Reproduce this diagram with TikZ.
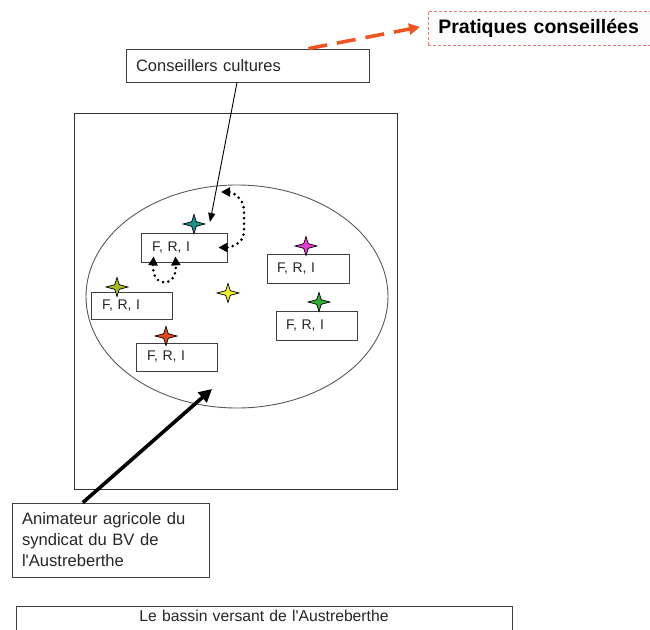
\documentclass[tikz,border=0pt]{standalone}
\usepackage{fontspec}
\setmainfont{Liberation Sans}
\usetikzlibrary{shapes.geometric,arrows.meta,calc}
\definecolor{redarr}{HTML}{EE5522}
\definecolor{pinkdash}{HTML}{E07A7A}
\definecolor{stteal}{HTML}{1F8F88}
\definecolor{stmag}{HTML}{E040D0}
\definecolor{stolive}{HTML}{A8B828}
\definecolor{styel}{HTML}{F2F030}
\definecolor{stred}{HTML}{E84818}
\definecolor{stgreen}{HTML}{30B030}
\newcommand\fourstar[2]{\filldraw[line width=0.7pt, draw=black, fill=#2] (#1) +(0,-9.5) -- +(2.3,-2.3) -- +(11,0) -- +(2.3,2.3) -- +(0,9.5) -- +(-2.3,2.3) -- +(-11,0) -- +(-2.3,-2.3) -- cycle;}
\tikzset{
  box/.style={draw=black!75, line width=0.8pt, inner xsep=10pt, inner ysep=0pt, text=black!85, align=left},
  frbox/.style={box, inner xsep=11pt, font=\fontsize{14}{16}\selectfont},
  dotarrow/.style={line width=2.9pt, dash pattern=on 0pt off 5.5pt, line cap=round, {Triangle[length=9pt,width=9pt]}-{Triangle[length=9pt,width=9pt]}},
}
\begin{document}
\begin{tikzpicture}[x=1pt,y=-1pt]
\useasboundingbox (0,0) rectangle (650,629);
% basin frame and ellipse
\node[draw=black!80, line width=0.9pt, minimum width=323, minimum height=376, inner sep=0] (bv) at (235.5,301) {};
\node[draw=black!65, line width=0.9pt, ellipse, minimum width=302, minimum height=223, inner sep=0] (el) at (237,296.5) {};
% top boxes
\node[box, minimum width=243, minimum height=33, text width=223, font=\fontsize{16.5}{20}\selectfont] (cc) at (247.5,65.5) {Conseillers cultures};
\node[draw=pinkdash, line width=0.7pt, dash pattern=on 3pt off 2pt, fill=black!1, anchor=west, minimum width=240, minimum height=34, text width=220, inner xsep=10pt, inner ysep=0pt, align=left, font=\bfseries\fontsize{19.5}{22}\selectfont] (pc) at (428,28) {Pratiques conseillées};
% F,R,I boxes
\node[frbox, minimum width=86, minimum height=29, text width=64] (b1) at (184,247.5) {F, R, I};
\node[frbox, minimum width=81, minimum height=27, text width=59] (b2) at (131.5,305.5) {F, R, I};
\node[frbox, minimum width=81, minimum height=28, text width=59] (b3) at (176.5,357) {F, R, I};
\node[frbox, minimum width=82, minimum height=29, text width=62, inner xsep=10pt] (b4) at (308,268.5) {F, R, I};
\node[frbox, minimum width=81, minimum height=29, text width=61, inner xsep=10pt] (b5) at (316.5,325.5) {F, R, I};
% stars
\fourstar{194,224}{stteal}
\fourstar{306,246}{stmag}
\fourstar{117,287}{stolive}
\fourstar{228,293}{styel}
\fourstar{166,336}{stred}
\fourstar{319,302}{stgreen}
% lower boxes
\node[box, minimum width=197, minimum height=74, text width=177, font=\fontsize{16.6}{21}\selectfont] (an) at (110.5,540) {Animateur agricole du\\syndicat du BV de\\l\textquotesingle Austreberthe};
\node[box, anchor=north, minimum width=496, inner ysep=4pt, text height=11.3pt, text depth=14pt, text width=476, align=center, font=\fontsize{15.7}{18}\selectfont] (lb) at (264,606) {Le bassin versant de l\textquotesingle Austreberthe};
% connectors
\coordinate (t1) at (210,222);
\coordinate (t2) at (212,389);
\coordinate (d1) at (221,192);
\draw[line width=0.9pt, -{Triangle[length=9pt,width=7pt]}] ($(cc.south west)!0.457!(cc.south east)$) -- (t1);
\draw[line width=3.6pt, -{Triangle[length=13pt,width=13pt]}] ($(an.north west)!0.36!(an.north east)$) -- (t2);
\draw[redarr, line width=3.6pt, dash pattern=on 19pt off 10pt, -{Triangle[length=11pt,width=11pt]}] ($(cc.north west)!0.75!(cc.north east)$) -- ($(pc.west)+(-8,-1)$);
\draw[dotarrow] (d1) to[out=0,in=90] (244,210) -- (244,232) to[out=-90,in=0] ($(b1.east)+(-9,0)$);
\draw[dotarrow] ($(b1.south west)!0.15!(b1.south east)+(0,-6)$) .. controls +(-2,32) and +(2,32) .. ($(b1.south west)!0.40!(b1.south east)+(0,-6)$);
\end{tikzpicture}
\end{document}
